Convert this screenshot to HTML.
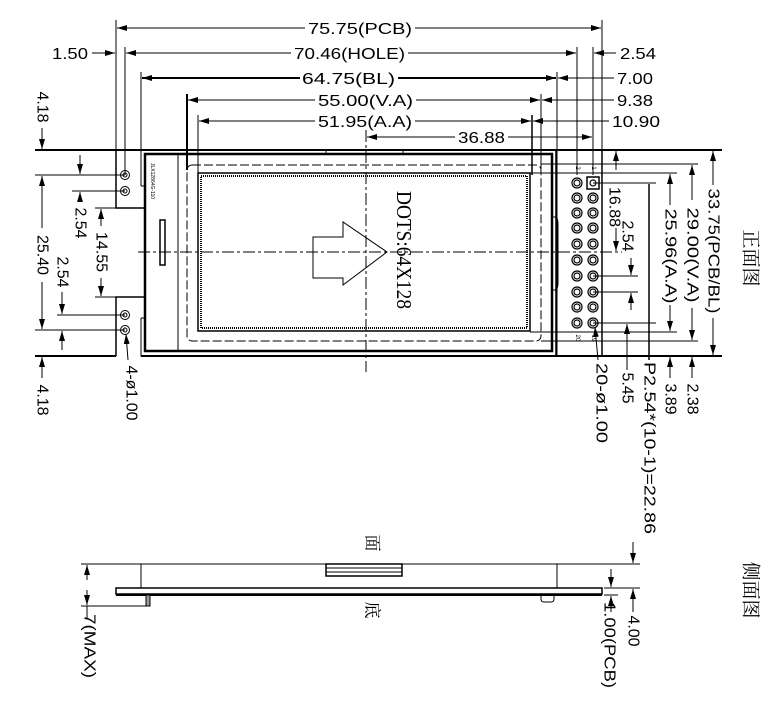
<!DOCTYPE html>
<html><head><meta charset="utf-8"><style>
html,body{margin:0;padding:0;background:#fff}
svg{display:block}
text{font-family:"Liberation Sans","Noto Sans CJK SC",sans-serif;fill:#000}
.s{font-family:"Liberation Serif","Noto Serif CJK SC",serif}
</style></head><body>
<svg width="763" height="707" viewBox="0 0 763 707" xmlns="http://www.w3.org/2000/svg" font-size="16">
<defs>
<marker id="a" viewBox="0 0 10 6" refX="10" refY="3" markerWidth="10" markerHeight="6" markerUnits="userSpaceOnUse" orient="auto"><path d="M0,0L10,3L0,6z" fill="#000"/></marker>
</defs>
<g stroke="#000" fill="none" stroke-width="1">
<line x1="116" y1="20" x2="116" y2="150"/><line x1="602" y1="20" x2="602" y2="150"/>
<line x1="305" y1="28" x2="117" y2="28" marker-end="url(#a)"/><line x1="415" y1="28" x2="601" y2="28" marker-end="url(#a)"/>
<line x1="125" y1="47" x2="125" y2="175"/><line x1="577" y1="47" x2="577" y2="175"/><line x1="593" y1="47" x2="593" y2="175"/>
<line x1="291" y1="53" x2="126" y2="53" marker-end="url(#a)"/><line x1="408" y1="53" x2="576" y2="53" marker-end="url(#a)"/>
<line x1="92" y1="53" x2="115" y2="53" marker-end="url(#a)"/><line x1="616" y1="53" x2="594" y2="53" marker-end="url(#a)"/>
<line x1="141" y1="72" x2="141" y2="186"/><line x1="557" y1="72" x2="557" y2="356"/>
<line x1="300" y1="78" x2="142" y2="78" stroke-width="2" marker-end="url(#a)"/><line x1="398" y1="78" x2="556" y2="78" stroke-width="2" marker-end="url(#a)"/>
<line x1="614" y1="78" x2="558" y2="78" marker-end="url(#a)"/>
<line x1="187" y1="94" x2="187" y2="170" stroke-width="2"/><line x1="541" y1="94" x2="541" y2="170"/>
<line x1="315" y1="100" x2="188" y2="100" marker-end="url(#a)"/><line x1="416" y1="100" x2="540" y2="100" marker-end="url(#a)"/>
<line x1="614" y1="100" x2="542" y2="100" marker-end="url(#a)"/>
<line x1="198" y1="115" x2="198" y2="175"/><line x1="532" y1="115" x2="532" y2="175" stroke-width="1.5"/>
<line x1="315" y1="121" x2="199" y2="121" marker-end="url(#a)"/><line x1="415" y1="121" x2="531" y2="121" marker-end="url(#a)"/>
<line x1="609" y1="121" x2="533" y2="121" marker-end="url(#a)"/>
<line x1="455" y1="137" x2="367" y2="137" marker-end="url(#a)"/><line x1="508" y1="137" x2="592" y2="137" marker-end="url(#a)"/>
<line x1="35" y1="150" x2="722" y2="150" stroke-width="2"/>
<line x1="35" y1="356" x2="116" y2="356" stroke-width="2"/><line x1="141" y1="356" x2="722" y2="356" stroke-width="2"/>
<path d="M116,150V208H145M145,297H116V356" stroke-width="1.5"/>
<line x1="602" y1="150" x2="602" y2="356" stroke-width="1.5"/>
<path d="M141,186H145M141,318V356H145"/>
<line x1="141" y1="318" x2="145" y2="318"/>
<rect x="145" y="154" width="407" height="197" stroke-width="2.5"/>
<line x1="556" y1="150" x2="556" y2="356" stroke-width="1.5"/>
<line x1="178" y1="154" x2="178" y2="351"/>
<line x1="326" y1="150" x2="326" y2="154"/><line x1="403" y1="150" x2="403" y2="154"/>
<rect x="187" y="165" width="354" height="176" rx="5" stroke-dasharray="9,3"/>
<rect x="198" y="173" width="332" height="158" stroke-width="1.5"/>
<rect x="201" y="176" width="326" height="152" stroke-dasharray="1,1" stroke-width="2"/>
<rect x="160" y="220" width="5" height="45" stroke-width="1.5"/>
<path d="M552,217h3q3,0 3,8v57q0,8 -3,8h-3" />
<line x1="138" y1="252" x2="622" y2="252" stroke-dasharray="12,3,3,3"/>
<line x1="366" y1="130" x2="366" y2="372" stroke-dasharray="12,3,3,3"/>
<polygon points="313,237 343,237 343,222 387,252 343,285 343,278 313,278"/>
<g><circle cx="125" cy="175" r="4.5"/><circle cx="125" cy="175" r="2"/><circle cx="125" cy="191" r="4.5"/><circle cx="125" cy="191" r="2"/>
<circle cx="125" cy="315" r="4.5"/><circle cx="125" cy="315" r="2"/><circle cx="125" cy="330" r="4.5"/><circle cx="125" cy="330" r="2"/></g>
<line x1="35" y1="175" x2="125" y2="175"/><line x1="72" y1="191" x2="125" y2="191"/>
<line x1="95" y1="208" x2="116" y2="208"/><line x1="95" y1="297" x2="116" y2="297"/>
<line x1="57" y1="315" x2="125" y2="315"/><line x1="35" y1="330" x2="125" y2="330"/>
<line x1="42" y1="128" x2="42" y2="149" marker-end="url(#a)"/>
<line x1="42" y1="228" x2="42" y2="176" marker-end="url(#a)"/><line x1="42" y1="282" x2="42" y2="329" marker-end="url(#a)"/>
<line x1="80" y1="155" x2="80" y2="174" marker-end="url(#a)"/><line x1="80" y1="202" x2="80" y2="192" marker-end="url(#a)"/>
<line x1="101" y1="226" x2="101" y2="209" marker-end="url(#a)"/><line x1="101" y1="278" x2="101" y2="296" marker-end="url(#a)"/>
<line x1="62" y1="292" x2="62" y2="314" marker-end="url(#a)"/><line x1="62" y1="350" x2="62" y2="331" marker-end="url(#a)"/>
<line x1="42" y1="378" x2="42" y2="357" marker-end="url(#a)"/>
<line x1="128" y1="360" x2="126" y2="334" marker-end="url(#a)"/>
<rect x="587" y="177" width="12" height="12" stroke-width="1.5"/>
<g stroke-width="1.2">
<circle cx="593" cy="183" r="3"/><circle cx="577" cy="183" r="5"/><circle cx="577" cy="183" r="3"/>
<circle cx="577" cy="198" r="5"/><circle cx="577" cy="198" r="3"/><circle cx="593" cy="198" r="5"/><circle cx="593" cy="198" r="3"/>
<circle cx="577" cy="213" r="5"/><circle cx="577" cy="213" r="3"/><circle cx="593" cy="213" r="5"/><circle cx="593" cy="213" r="3"/>
<circle cx="577" cy="228" r="5"/><circle cx="577" cy="228" r="3"/><circle cx="593" cy="228" r="5"/><circle cx="593" cy="228" r="3"/>
<circle cx="577" cy="244" r="5"/><circle cx="577" cy="244" r="3"/><circle cx="593" cy="244" r="5"/><circle cx="593" cy="244" r="3"/>
<circle cx="577" cy="260" r="5"/><circle cx="577" cy="260" r="3"/><circle cx="593" cy="260" r="5"/><circle cx="593" cy="260" r="3"/>
<circle cx="577" cy="276" r="5"/><circle cx="577" cy="276" r="3"/><circle cx="593" cy="276" r="5"/><circle cx="593" cy="276" r="3"/>
<circle cx="577" cy="292" r="5"/><circle cx="577" cy="292" r="3"/><circle cx="593" cy="292" r="5"/><circle cx="593" cy="292" r="3"/>
<circle cx="577" cy="307" r="5"/><circle cx="577" cy="307" r="3"/><circle cx="593" cy="307" r="5"/><circle cx="593" cy="307" r="3"/>
<circle cx="577" cy="323" r="5"/><circle cx="577" cy="323" r="3"/><circle cx="593" cy="323" r="5"/><circle cx="593" cy="323" r="3"/>
</g>
<line x1="541" y1="164" x2="698" y2="164"/><line x1="541" y1="341" x2="698" y2="341"/>
<line x1="530" y1="173" x2="677" y2="173"/><line x1="530" y1="332" x2="677" y2="332"/>
<line x1="593" y1="183" x2="656" y2="183"/><line x1="593" y1="323" x2="656" y2="323"/>
<line x1="713" y1="185" x2="713" y2="151" marker-end="url(#a)"/><line x1="713" y1="318" x2="713" y2="355" marker-end="url(#a)"/>
<line x1="692" y1="200" x2="692" y2="165" marker-end="url(#a)"/><line x1="692" y1="308" x2="692" y2="340" marker-end="url(#a)"/>
<line x1="692" y1="378" x2="692" y2="357" marker-end="url(#a)"/>
<line x1="670" y1="205" x2="670" y2="174" marker-end="url(#a)"/><line x1="670" y1="305" x2="670" y2="331" marker-end="url(#a)"/>
<line x1="670" y1="378" x2="670" y2="357" marker-end="url(#a)"/>
<line x1="649" y1="184" x2="649" y2="360" stroke-width="1.5"/>
<line x1="616" y1="170" x2="616" y2="151" marker-end="url(#a)"/><line x1="616" y1="228" x2="616" y2="251" marker-end="url(#a)"/>
<line x1="593" y1="276" x2="638" y2="276"/><line x1="593" y1="292" x2="638" y2="292"/>
<line x1="631" y1="258" x2="631" y2="275" marker-end="url(#a)"/><line x1="631" y1="310" x2="631" y2="293" marker-end="url(#a)"/>
<line x1="627" y1="370" x2="627" y2="324" marker-end="url(#a)"/>
<line x1="598" y1="360" x2="595" y2="327" marker-end="url(#a)"/>
<line x1="81" y1="564" x2="640" y2="564"/>
<line x1="141" y1="564" x2="141" y2="588"/><line x1="557" y1="564" x2="557" y2="588"/>
<rect x="116" y="588" width="486" height="6" stroke-width="1.5"/>
<line x1="116" y1="595" x2="602" y2="595" stroke-width="2"/>
<rect x="146" y="595" width="4" height="11" fill="#999"/>
<line x1="81" y1="606" x2="146" y2="606"/>
<path d="M541,595v4q0,3 3,3h7q3,0 3,-3v-4"/>
<rect x="326" y="564" width="76" height="12" stroke-width="1.5"/>
<line x1="326" y1="568" x2="402" y2="568"/><line x1="326" y1="572" x2="402" y2="572"/>
<line x1="87" y1="580" x2="87" y2="565" marker-end="url(#a)"/><line x1="87" y1="590" x2="87" y2="605" marker-end="url(#a)"/>
<line x1="87" y1="606" x2="87" y2="618"/>
<line x1="633" y1="542" x2="633" y2="563" marker-end="url(#a)"/><line x1="633" y1="612" x2="633" y2="589" marker-end="url(#a)"/>
<line x1="604" y1="588" x2="640" y2="588"/><line x1="604" y1="595" x2="618" y2="595"/>
<line x1="611" y1="569" x2="611" y2="587" marker-end="url(#a)"/><line x1="611" y1="612" x2="611" y2="596" marker-end="url(#a)"/>
</g>
<text x="308" y="34" textLength="104" lengthAdjust="spacingAndGlyphs">75.75(PCB)</text>
<text x="294" y="59" textLength="111" lengthAdjust="spacingAndGlyphs">70.46(HOLE)</text>
<text x="302" y="84" textLength="93" lengthAdjust="spacingAndGlyphs">64.75(BL)</text>
<text x="318" y="106" textLength="95" lengthAdjust="spacingAndGlyphs">55.00(V.A)</text>
<text x="318" y="127" textLength="94" lengthAdjust="spacingAndGlyphs">51.95(A.A)</text>
<text x="458" y="143" textLength="47" lengthAdjust="spacingAndGlyphs">36.88</text>
<text x="52" y="59" textLength="36" lengthAdjust="spacingAndGlyphs">1.50</text>
<text x="620" y="59" textLength="36" lengthAdjust="spacingAndGlyphs">2.54</text>
<text x="617" y="84" textLength="36" lengthAdjust="spacingAndGlyphs">7.00</text>
<text x="617" y="106" textLength="36" lengthAdjust="spacingAndGlyphs">9.38</text>
<text x="612" y="127" textLength="48" lengthAdjust="spacingAndGlyphs">10.90</text>
<g text-anchor="middle" dominant-baseline="central">
<text transform="translate(42,107) rotate(90)">4.18</text>
<text transform="translate(80,223) rotate(90)">2.54</text>
<text transform="translate(101,252) rotate(90)">14.55</text>
<text transform="translate(42,255) rotate(90)">25.40</text>
<text transform="translate(62,272) rotate(90)">2.54</text>
<text transform="translate(42,400) rotate(90)">4.18</text>
<text transform="translate(131,393) rotate(90)">4-ø1.00</text>
<text transform="translate(713,251) rotate(90)" textLength="125" lengthAdjust="spacingAndGlyphs">33.75(PCB/BL)</text>
<text transform="translate(692,255) rotate(90)" textLength="95" lengthAdjust="spacingAndGlyphs">29.00(V.A)</text>
<text transform="translate(670,256) rotate(90)" textLength="95" lengthAdjust="spacingAndGlyphs">25.96(A.A)</text>
<text transform="translate(614,207) rotate(90)">16.88</text>
<text transform="translate(627,236) rotate(90)">2.54</text>
<text transform="translate(692,399) rotate(90)">2.38</text>
<text transform="translate(670,399) rotate(90)">3.89</text>
<text transform="translate(649,448) rotate(90)" textLength="172" lengthAdjust="spacingAndGlyphs">P2.54*(10-1)=22.86</text>
<text transform="translate(627,388) rotate(90)">5.45</text>
<text transform="translate(601,403) rotate(90)" textLength="80" lengthAdjust="spacingAndGlyphs">20-ø1.00</text>
<text transform="translate(89,646) rotate(90)" textLength="64" lengthAdjust="spacingAndGlyphs">7(MAX)</text>
<text transform="translate(633,631) rotate(90)">4.00</text>
<text transform="translate(609,645) rotate(90)" textLength="86" lengthAdjust="spacingAndGlyphs">1.00(PCB)</text>
<text class="s" transform="translate(404,250) rotate(90)" style="font-size:21px" textLength="118" lengthAdjust="spacingAndGlyphs">DOTS:64X128</text>
<text class="s" transform="translate(750,258) rotate(90)" style="font-size:19px">正面图</text>
<text class="s" transform="translate(750,590) rotate(90)" style="font-size:19px">侧面图</text>
<text class="s" transform="translate(372,543) rotate(90)" style="font-size:17px">面</text>
<text class="s" transform="translate(372,610) rotate(90)" style="font-size:17px">底</text>
<text transform="translate(152,181) rotate(90)" style="font-size:5px">JLX12864G-110</text>
<text transform="translate(577,168) rotate(90)" style="font-size:6px">2</text>
<text transform="translate(593,168) rotate(90)" style="font-size:6px">1</text>
<text transform="translate(577,338) rotate(90)" style="font-size:6px">20</text>
<text transform="translate(593,338) rotate(90)" style="font-size:6px">19</text>
</g>
</svg>
</body></html>
